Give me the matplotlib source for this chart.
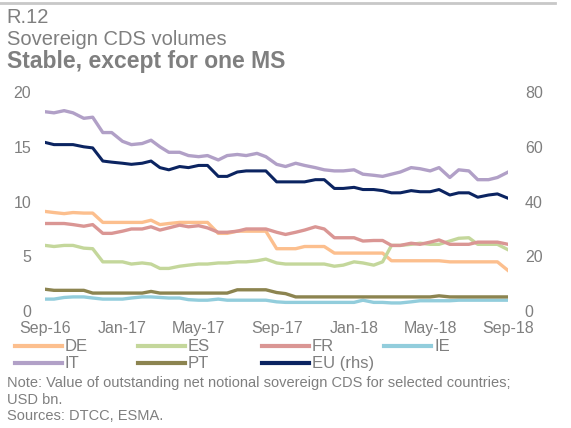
import pandas as pd
import matplotlib
matplotlib.use('Agg')
import matplotlib.pyplot as plt
import matplotlib.dates as mdates
from matplotlib.lines import Line2D

plt.rcParams['font.family'] = ['Liberation Sans', 'DejaVu Sans']

# semi-monthly observations, Sep-16 to Sep-18 (USD bn)
dates = pd.date_range('2016-09-01', periods=49, freq='SMS')

de = [9.1, 9.0, 8.9, 9.0, 8.95, 8.95, 8.1, 8.1, 8.1, 8.1, 8.1, 8.3, 7.9, 8.0, 8.1, 8.1, 8.1,
      8.1, 7.1, 7.1, 7.3, 7.3, 7.3, 7.3, 5.7, 5.7, 5.7, 5.9, 5.9, 5.9, 5.3, 5.3, 5.3, 5.3,
      5.3, 5.3, 4.6, 4.6, 4.6, 4.6, 4.6, 4.6, 4.5, 4.5, 4.5, 4.5, 4.5, 4.5, 3.7]
es = [6.0, 5.9, 6.0, 6.0, 5.75, 5.7, 4.5, 4.5, 4.5, 4.3, 4.4, 4.3, 3.9, 3.9, 4.1, 4.2, 4.3,
      4.3, 4.4, 4.4, 4.5, 4.5, 4.6, 4.75, 4.4, 4.3, 4.3, 4.3, 4.3, 4.3, 4.1, 4.2, 4.5, 4.4,
      4.2, 4.5, 6.0, 6.0, 6.1, 6.2, 6.1, 6.1, 6.4, 6.65, 6.7, 6.1, 6.1, 6.1, 5.6]
fr = [8.0, 8.0, 8.0, 7.9, 7.75, 7.9, 7.1, 7.1, 7.3, 7.5, 7.5, 7.7, 7.4, 7.6, 7.85, 7.7, 7.8,
      7.6, 7.2, 7.2, 7.3, 7.5, 7.5, 7.5, 7.2, 7.0, 7.2, 7.4, 7.7, 7.5, 6.7, 6.7, 6.7, 6.4,
      6.45, 6.45, 6.0, 6.0, 6.2, 6.1, 6.3, 6.5, 6.1, 6.1, 6.1, 6.3, 6.3, 6.3, 6.1]
ie = [1.1, 1.1, 1.25, 1.3, 1.3, 1.2, 1.1, 1.1, 1.1, 1.2, 1.3, 1.3, 1.25, 1.2, 1.2, 1.05, 1.0,
      1.0, 1.1, 1.0, 1.0, 1.0, 1.0, 1.0, 0.85, 0.8, 0.8, 0.8, 0.8, 0.8, 0.8, 0.8, 0.8, 1.0,
      0.8, 0.8, 0.75, 0.75, 0.85, 0.95, 0.95, 0.95, 0.95, 1.0, 1.0, 1.0, 1.0, 1.0, 1.0]
it = [18.2, 18.1, 18.3, 18.1, 17.6, 17.7, 16.3, 16.3, 15.5, 15.2, 15.3, 15.6, 15.0, 14.5,
      14.5, 14.2, 14.1, 14.2, 13.8, 14.2, 14.3, 14.2, 14.4, 14.1, 13.4, 13.2, 13.5, 13.3,
      13.1, 12.9, 12.8, 12.8, 12.9, 12.5, 12.4, 12.3, 12.5, 12.7, 13.1, 13.0, 12.8, 13.1,
      12.2, 12.9, 12.8, 12.0, 12.0, 12.2, 12.7]
pt = [2.0, 1.9, 1.9, 1.9, 1.9, 1.65, 1.65, 1.65, 1.65, 1.65, 1.65, 1.8, 1.65, 1.65, 1.65,
      1.65, 1.65, 1.65, 1.65, 1.65, 1.95, 1.95, 1.95, 1.95, 1.7, 1.6, 1.3, 1.3, 1.3, 1.3,
      1.3, 1.3, 1.3, 1.3, 1.3, 1.3, 1.3, 1.3, 1.3, 1.3, 1.3, 1.4, 1.3, 1.3, 1.3, 1.3, 1.3,
      1.3, 1.3]
eu = [61.6, 60.8, 60.8, 60.8, 60.0, 59.6, 54.8, 54.4, 54.0, 53.6, 54.0, 54.8, 52.4, 51.6,
      52.8, 52.4, 53.2, 53.2, 49.2, 49.2, 50.8, 51.2, 51.2, 51.2, 47.2, 47.2, 47.2, 47.2,
      48.0, 48.0, 44.8, 44.8, 45.2, 44.4, 44.4, 44.0, 43.2, 43.2, 44.0, 43.6, 43.6, 44.4,
      42.4, 43.2, 43.2, 41.6, 42.4, 42.8, 41.2]

labels = ['DE', 'ES', 'FR', 'IE', 'IT', 'PT', 'EU (rhs)']
colors = ['#FCBF8E', '#C4D79B', '#DA9694', '#92CDDC', '#B1A0C7', '#8C8450', '#0B2461']
grey = '#7F7F7F'

fig = plt.figure(figsize=(5.71, 4.28), dpi=100)
ax = fig.add_axes([0.079, 0.273, 0.811, 0.512])
ax2 = ax.twinx()

for vals, c in zip([de, es, fr, ie, it, pt], colors[:6]):
    ax.plot(dates, vals, color=c, lw=2.4, solid_joinstyle='round')
ax2.plot(dates, eu, color=colors[6], lw=2.2, solid_joinstyle='round')

ax.set_ylim(0, 20)
ax.set_yticks([0, 5, 10, 15, 20])
ax2.set_ylim(0, 80)
ax2.set_yticks([0, 20, 40, 60, 80])
ax.set_xlim(dates[0], dates[-1])
ax.xaxis.set_major_locator(mdates.MonthLocator(bymonth=[1, 5, 9]))
ax.xaxis.set_major_formatter(mdates.DateFormatter('%b-%y'))

for a in (ax, ax2):
    for s in a.spines.values():
        s.set_visible(False)
    a.tick_params(length=0, labelsize=11.5, colors=grey, labelcolor=grey)
ax.tick_params(axis='y', pad=10)
ax2.tick_params(axis='y', pad=12)
ax.tick_params(axis='x', pad=7)

# legend: one small legend per column so the columns sit on a fixed grid
handles = [Line2D([], [], color=c, lw=3) for c in colors]
columns = [[0, 4], [1, 5], [2, 6], [3]]
col_x = [15, 138, 262, 384]
for idx, x0 in zip(columns, col_x):
    leg = fig.legend([handles[i] for i in idx], [labels[i] for i in idx],
                     loc='upper left', bbox_to_anchor=(x0 / 571, 0.207),
                     frameon=False, handlelength=2.8, handletextpad=0.2,
                     labelspacing=0.12, fontsize=12, labelcolor=grey,
                     borderaxespad=0, borderpad=0)

# header
fig.add_artist(Line2D([0, 0.972], [0.993, 0.993], color='#C8C8C8', lw=2))
fig.text(0.012, 0.946, 'R.12', fontsize=14.5, color=grey, va='baseline')
fig.text(0.012, 0.895, 'Sovereign CDS volumes', fontsize=14.5, color=grey, va='baseline')
fig.text(0.012, 0.841, 'Stable, except for one MS', fontsize=16.5, color=grey,
         fontweight='bold', va='baseline')

# notes
fig.text(0.012, 0.095, 'Note: Value of outstanding net notional sovereign CDS for selected countries;',
         fontsize=10.5, color=grey, va='baseline')
fig.text(0.012, 0.056, 'USD bn.', fontsize=10.5, color=grey, va='baseline')
fig.text(0.012, 0.018, 'Sources: DTCC, ESMA.', fontsize=10.5, color=grey, va='baseline')

fig.savefig('out.png', dpi=100)
